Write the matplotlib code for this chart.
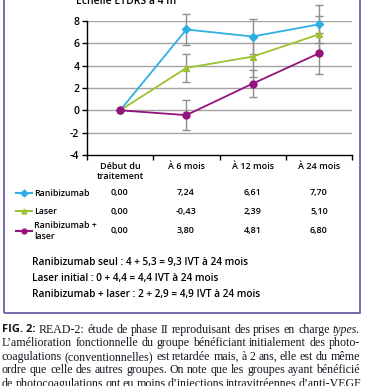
import matplotlib
matplotlib.use("Agg")
import matplotlib.pyplot as plt
from matplotlib.patches import Rectangle

W, H = 366, 386

categories = ["Début du\ntraitement", "À 6 mois", "À 12 mois", "À 24 mois"]
series_names = ["Ranibizumab", "Laser", "Ranibizumab +\nlaser"]
# values printed in the table (rows as in the source)
table_rows = [
    [0.00, 7.24, 6.61, 7.70],
    [0.00, -0.43, 2.39, 5.10],
    [0.00, 3.80, 4.81, 6.80],
]
# values drawn as curves (the figure plots them this way)
ranibizumab = [0.00, 7.24, 6.61, 7.70]
laser = [0.00, 3.80, 4.81, 6.80]
combo = [0.00, -0.43, 2.39, 5.10]
err_ranibizumab = [0, 1.35, 1.6, 1.7]
err_laser = [0, 1.25, 1.83, 1.64]
err_combo = [0, 1.35, 1.2, 1.85]

blue = "#2eaee4"
green = "#9cc131"
purple = "#94137f"
frame = "#6d5fa6"
grid = "#a3a3a3"

sans = "Open Sans"
plt.rcParams["font.family"] = [sans, "DejaVu Sans"]

fig = plt.figure(figsize=(W / 100, H / 100), dpi=100)


def fx(x):
    return x / W


def fy(y):
    return 1 - y / H


# chart area
ax = fig.add_axes([fx(87), fy(155), (352 - 87) / W, (155 - 21) / H])
x = list(range(len(categories)))
ax.set_xlim(-0.5, 3.5)
ax.set_ylim(-4, 8)
ax.set_yticks(range(-4, 9, 2))
ax.set_yticklabels([str(v) for v in range(-4, 9, 2)], fontsize=7.5, fontweight="semibold")
ax.set_xticks([-0.5, 0.5, 1.5, 2.5, 3.5])
ax.set_xticklabels([])
ax.tick_params(axis="both", direction="out", length=3.5, width=1, pad=2)
for s in ["top", "right"]:
    ax.spines[s].set_visible(False)
for s in ["left", "bottom"]:
    ax.spines[s].set_linewidth(1)
for v in range(-2, 9, 2):
    ax.axhline(v, color=grid, lw=1, zorder=0)

styles = [
    (ranibizumab, err_ranibizumab, blue, "D", 4),
    (laser, err_laser, green, "^", 4.5),
    (combo, err_combo, purple, "o", 5),
]
for vals, errs, col, mk, ms in styles:
    ax.errorbar(x[1:], vals[1:], yerr=errs[1:], fmt="none", ecolor="#8e8e8e",
                elinewidth=1, capsize=3, capthick=1, zorder=2, clip_on=False)
for vals, errs, col, mk, ms in styles:
    ax.plot(x, vals, color=col, lw=1.3, marker=mk, ms=ms, zorder=3, clip_on=False)

# title cut at the top
fig.text(fx(76), fy(4), "Échelle ETDRS à 4 m", fontsize=7.5, fontweight="semibold",
         va="baseline", ha="left")

# table
col_x = [120, 186, 253, 319]
for cx, c in zip(col_x, categories):
    fig.text(fx(cx), fy(162), c, fontsize=6.5, fontweight="semibold", ha="center",
             va="top", linespacing=1.15)
row_y = [193, 211, 231]
row_cols = [blue, green, purple]
row_mk = ["D", "^", "o"]
for ry, name, col, mk, vals in zip(row_y, series_names, row_cols, row_mk, table_rows):
    fig.add_artist(plt.Line2D([fx(16), fx(32)], [fy(ry), fy(ry)], color=col, lw=1.5,
                              transform=fig.transFigure))
    fig.add_artist(plt.Line2D([fx(24)], [fy(ry)], color=col, marker=mk, ms=3.5,
                              transform=fig.transFigure))
    fig.text(fx(34), fy(ry), name, fontsize=6.3, fontweight="semibold", ha="left",
             va="center", linespacing=1.3)
    for cx, v in zip(col_x, vals):
        fig.text(fx(cx), fy(ry), f"{v:.2f}".replace(".", ","), fontsize=6.5,
                 fontweight="semibold", ha="center", va="center")

# injections summary
summary = [
    "Ranibizumab seul : 4 + 5,3 = 9,3 IVT à 24 mois",
    "Laser initial : 0 + 4,4 = 4,4 IVT à 24 mois",
    "Ranibizumab + laser : 2 + 2,9 = 4,9 IVT à 24 mois",
]
for i, line in enumerate(summary):
    fig.text(fx(32), fy(263 + 16 * i), line, fontsize=7.2, fontweight="semibold",
             ha="left", va="center")

# frame
fig.add_artist(Rectangle((fx(4), fy(313)), (360 - 4) / W, 1.2, fill=False,
                         edgecolor=frame, lw=1.3, transform=fig.transFigure))

# caption, justified word by word
serif = "Liberation Serif"
caption = [
    [("FIG. 2:", dict(family=sans, weight="bold", size=8)), ("READ-2:", {}), ("étude", {}),
     ("de", {}), ("phase", {}), ("II", {}), ("reproduisant", {}), ("des", {}),
     ("prises", {}), ("en", {}), ("charge", {}), ("types.", dict(style="italic"))],
    "L’amélioration fonctionnelle du groupe bénéficiant initialement des photo-",
    "coagulations (conventionnelles) est retardée mais, à 2 ans, elle est du même",
    "ordre que celle des autres groupes. On note que les groupes ayant bénéficié",
    "de photocoagulations ont eu moins d’injections intravitréennes d’anti-VEGF",
]
renderer = fig.canvas.get_renderer()
left, right = 2, 360
for i, line in enumerate(caption):
    words = line if isinstance(line, list) else [(w, {}) for w in line.split()]
    y = fy(330 + 13.4 * i)
    arts = []
    for w, kw in words:
        props = dict(family=serif, size=8.6)
        props.update(kw)
        t = fig.text(0, y, w, fontfamily=props["family"], fontsize=props["size"],
                     fontweight=props.get("weight", "normal"),
                     fontstyle=props.get("style", "normal"), va="center", ha="left",
                     color="#1a1320")
        arts.append(t)
    widths = [a.get_window_extent(renderer).width for a in arts]
    gap = max(2.2, (right - left - sum(widths)) / (len(arts) - 1))
    pos = left
    for a, wdt in zip(arts, widths):
        a.set_x(fx(pos))
        pos += wdt + gap

fig.savefig("out.png", dpi=100)
